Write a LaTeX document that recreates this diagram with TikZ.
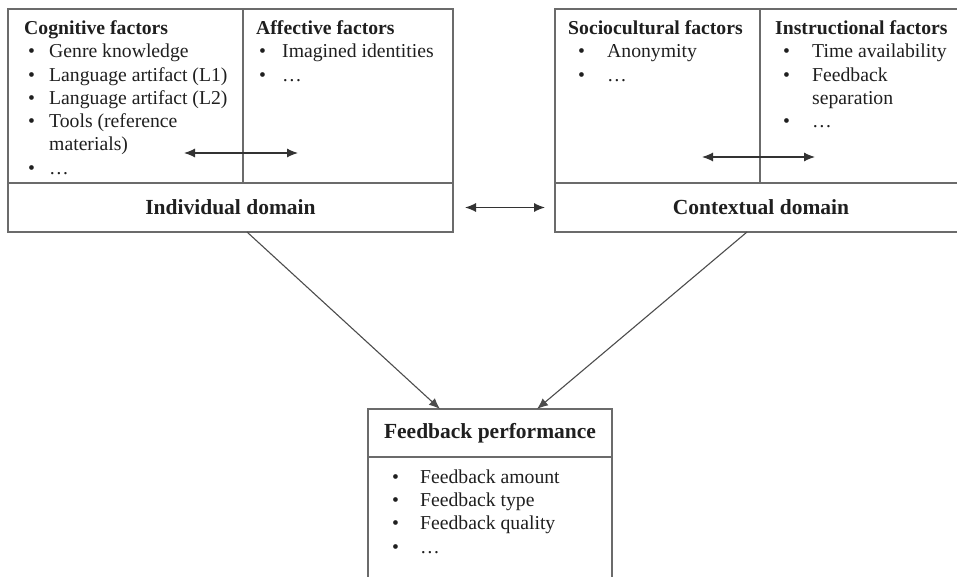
\documentclass[tikz,border=0pt]{standalone}
\usepackage{fontspec}
\setmainfont{Liberation Serif}
\usepackage{xcolor}
\usepackage{tikz}
\usetikzlibrary{positioning, arrows.meta, calc}
\definecolor{linegray}{rgb}{0.42,0.42,0.42}
\definecolor{textgray}{rgb}{0.12,0.12,0.12}
\tikzstyle{cell}=[%
      rectangle, draw=linegray, line width=1.3pt, fill=none,
      inner sep=0pt, outer sep=0pt, anchor=north west
]
\tikzstyle{txt}=[%
      inner sep=0pt, anchor=north west, align=left, text=textgray,
      font=\fontsize{19.7}{23.3}\selectfont
]
\tikzstyle{ttl}=[%
      text=textgray, font=\fontsize{21.5}{25}\selectfont\bfseries
]
\tikzstyle{dbl}=[%
      <->, line width=1.1pt, draw=black!80
]
\tikzstyle{arr}=[%
      ->, line width=1.1pt, draw=black!70
]
\newcommand{\bl}[2]{\hspace*{#1}\makebox[#2][l]{\textbullet}}

\begin{document}
\begin{tikzpicture}[x=1pt, y=-1pt, >={Latex[length=11pt,width=9pt]}]
    \useasboundingbox (0,0) rectangle (957,577);
    \clip (0,0) rectangle (957,577);

    % individual domain
    \node[cell, minimum width=235pt, minimum height=174pt] (cog) at (8,9) {};
    \node[cell, minimum width=210pt, minimum height=174pt] (aff) [below right = 0pt and 0pt of cog.north east] {};
    \node[cell, ttl, minimum width=445pt, minimum height=49pt] (idom) [below right = 0pt and 0pt of cog.south west] {Individual domain};

    % contextual domain
    \node[cell, minimum width=205pt, minimum height=174pt] (soc) at (555,9) {};
    \node[cell, minimum width=207pt, minimum height=174pt] (ins) [below right = 0pt and 0pt of soc.north east] {};
    \node[cell, ttl, minimum width=412pt, minimum height=49pt] (cdom) [below right = 0pt and 0pt of soc.south west] {Contextual domain};

    % feedback performance
    \node[cell, ttl, minimum width=244pt, minimum height=48pt] (perfh) at (368,409) {Feedback performance};
    \node[cell, minimum width=244pt, minimum height=163pt] (perfb) [below = 0pt of perfh] {};

    % texts
    \node[txt] (cogtxt) at (24,20.4) {\textbf{Cognitive factors}\\
        \bl{4pt}{21pt}Genre knowledge\\
        \bl{4pt}{21pt}Language artifact (L1)\\
        \bl{4pt}{21pt}Language artifact (L2)\\
        \bl{4pt}{21pt}Tools (reference\\
        \hspace*{25pt}materials)\\
        \bl{4pt}{21pt}\dots};
    \node[txt] (afftxt) at (256,20.4) {\textbf{Affective factors}\\
        \bl{3pt}{23pt}Imagined identities\\
        \bl{3pt}{23pt}\dots};
    \node[txt] (soctxt) at (568,20.4) {\textbf{Sociocultural factors}\\
        \bl{10pt}{29pt}Anonymity\\
        \bl{10pt}{29pt}\dots};
    \node[txt] (instxt) at (775,20.4) {\textbf{Instructional factors}\\
        \bl{8pt}{29pt}Time availability\\
        \bl{8pt}{29pt}Feedback\\
        \hspace*{37pt}separation\\
        \bl{8pt}{29pt}\dots};
    \node[txt] (perftxt) at (392,469.5) {\bl{0pt}{28pt}Feedback amount\\
        \bl{0pt}{28pt}Feedback type\\
        \bl{0pt}{28pt}Feedback quality\\
        \bl{0pt}{28pt}\dots};

    % arrows
    \coordinate (ia) at (184,153);
    \coordinate (ib) at (298,153);
    \coordinate (ca) at (702,157);
    \coordinate (cb) at (815,157);
    \draw[dbl] (ia) -- (ib);
    \draw[dbl] (ca) -- (cb);
    \draw[dbl] ([xshift=12pt]idom.east) -- ([xshift=-10pt]cdom.west);
    \draw[arr] ([xshift=16.5pt]idom.south) -- ([xshift=-50pt]perfh.north);
    \draw[arr] ([xshift=-14pt]cdom.south) -- ([xshift=47pt]perfh.north);
\end{tikzpicture}
\end{document}
